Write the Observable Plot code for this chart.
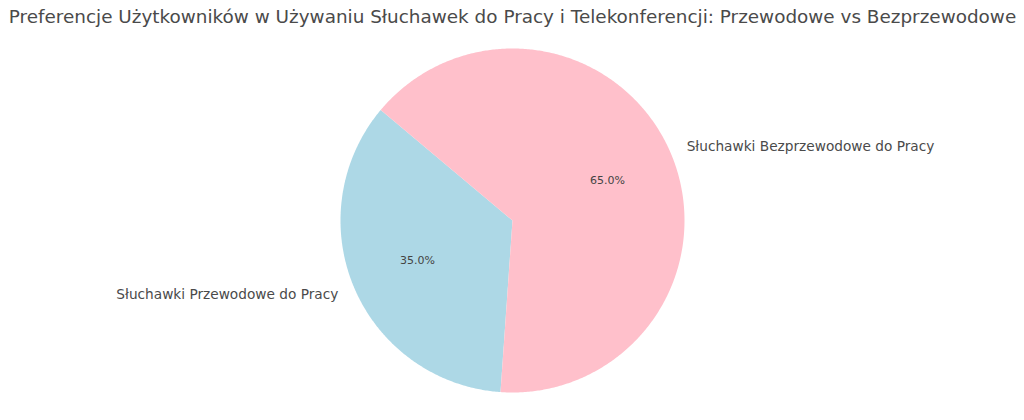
<!DOCTYPE html>
<html>
<head>
<meta charset="utf-8">
<script src="https://cdn.jsdelivr.net/npm/d3@7"></script>
<script src="https://cdn.jsdelivr.net/npm/@observablehq/plot@0.6"></script>
<style>
  html, body { margin: 0; padding: 0; background: #fff; }
  #chart { width: 1024px; height: 420px; }
</style>
</head>
<body>
<div id="chart"></div>
<script>
const titleText = "Preferencje Użytkowników w Używaniu Słuchawek do Pracy i Telekonferencji: Przewodowe vs Bezprzewodowe";
const categories = ["Słuchawki Przewodowe do Pracy", "Słuchawki Bezprzewodowe do Pracy"];
const shares = [35, 65];
const sliceColors = ["#ADD8E6", "#FFC0CB"];
const startAngleDeg = 140;

const W = 1024, H = 420;
const R = 172;           // pie radius in px
const cx = 512, cy = 220; // pie center in px

// slices (counterclockwise from startangle, like matplotlib)
const total = d3.sum(shares);
let acc = startAngleDeg;
const slices = categories.map((c, i) => {
  const span = shares[i] / total * 360;
  const s = {category: c, value: shares[i], color: sliceColors[i], a0: acc, a1: acc + span};
  acc += span;
  return s;
});
const rad = d => d * Math.PI / 180;

function slicePoints(s) {
  const pts = [{x: 0, y: 0}];
  const n = Math.max(8, Math.ceil((s.a1 - s.a0) / 0.5));
  for (let k = 0; k <= n; k++) {
    const a = rad(s.a0 + (s.a1 - s.a0) * k / n);
    pts.push({x: Math.cos(a), y: Math.sin(a)});
  }
  pts.push({x: 0, y: 0});
  return pts;
}

const labels = slices.map(s => {
  const m = rad((s.a0 + s.a1) / 2);
  return {
    text: s.category,
    x: 1.1 * Math.cos(m), y: 1.1 * Math.sin(m),
    anchor: Math.cos(m) >= 0 ? "start" : "end"
  };
});
const pcts = slices.map(s => {
  const m = rad((s.a0 + s.a1) / 2);
  return {text: s.value.toFixed(1) + "%", x: 0.6 * Math.cos(m), y: 0.6 * Math.sin(m)};
});

const chart = Plot.plot({
  width: W, height: H,
  margin: 0,
  style: {fontFamily: "DejaVu Sans, sans-serif", background: "#fff"},
  x: {domain: [-cx / R, (W - cx) / R], range: [0, W], axis: null},
  y: {domain: [-(H - cy) / R, cy / R], range: [H, 0], axis: null},
  marks: [
    ...slices.map(s => Plot.line(slicePoints(s), {x: "x", y: "y", fill: s.color, stroke: "none", curve: "linear"})),
    Plot.text(labels.filter(d => d.anchor === "start"), {x: "x", y: "y", text: "text", textAnchor: "start", fontSize: 13.7, fill: "#4a4a4a"}),
    Plot.text(labels.filter(d => d.anchor === "end"), {x: "x", y: "y", text: "text", textAnchor: "end", fontSize: 13.7, fill: "#4a4a4a"}),
    Plot.text(pcts, {x: "x", y: "y", text: "text", fontSize: 11, fill: "#444"}),
    Plot.text([titleText], {frameAnchor: "top", dy: 9, text: d => d, fontSize: 18.4, fill: "#4a4a4a"})
  ]
});
document.getElementById("chart").appendChild(chart);
</script>
</body>
</html>
